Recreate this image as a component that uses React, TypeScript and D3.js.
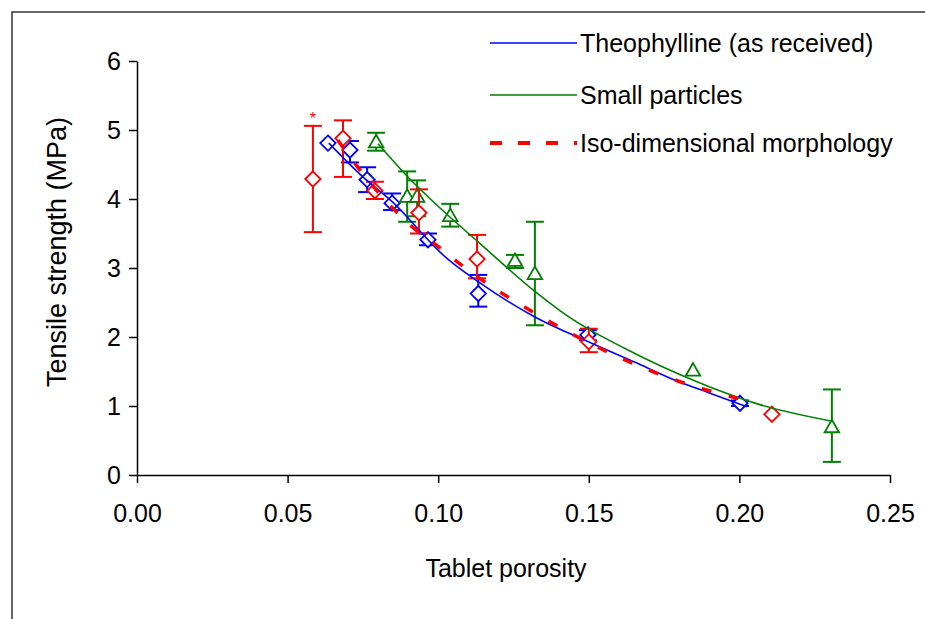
import React, { useEffect, useRef } from 'react';
import * as d3 from 'd3';

// measured points: [porosity, strength, low, high]
const asReceived = [
  [0.0634, 4.81, 4.81, 4.81],
  [0.0707, 4.71, 4.53, 4.84],
  [0.0764, 4.28, 4.1, 4.46],
  [0.0847, 3.94, 3.84, 4.08],
  [0.0966, 3.41, 3.33, 3.5],
  [0.1133, 2.63, 2.44, 2.9],
  [0.1497, 2.03, 1.95, 2.1],
  [0.2002, 1.04, 1.0, 1.08],
];
const smallParticles = [
  [0.0794, 4.81, 4.7, 4.96],
  [0.0897, 4.02, 3.67, 4.4],
  [0.093, 4.02, 3.75, 4.27],
  [0.104, 3.74, 3.6, 3.93],
  [0.1255, 3.09, 3.0, 3.19],
  [0.1321, 2.9, 2.17, 3.67],
  [0.1846, 1.5, 1.5, 1.5],
  [0.2307, 0.68, 0.19, 1.24],
];
const isoDimensional = [
  [0.0584, 4.29, 3.52, 5.06],
  [0.0684, 4.88, 4.32, 5.14],
  [0.079, 4.12, 4.0, 4.25],
  [0.0936, 3.8, 3.5, 4.14],
  [0.1129, 3.13, 2.85, 3.48],
  [0.15, 1.93, 1.78, 2.12],
  [0.2108, 0.88, 0.88, 0.88],
];

// fitted trend lines
const asReceivedFit = [
  [0.0637, 4.81], [0.075, 4.32], [0.085, 3.95], [0.0966, 3.41], [0.1006, 3.23],
  [0.114, 2.78], [0.1321, 2.29], [0.1504, 1.92], [0.165, 1.64], [0.18, 1.35],
  [0.19, 1.19], [0.2025, 0.99],
];
const smallFit = [
  [0.08, 4.8], [0.0897, 4.33], [0.1006, 3.87], [0.114, 3.35], [0.1321, 2.66],
  [0.1405, 2.38], [0.1653, 1.76], [0.18, 1.46], [0.19, 1.28], [0.2068, 1.02],
  [0.2307, 0.78],
];
const isoFit = [
  [0.0667, 4.85], [0.0796, 4.12], [0.0913, 3.6], [0.1006, 3.29], [0.109, 3.0],
  [0.1195, 2.68], [0.1288, 2.43], [0.1564, 1.78], [0.166, 1.59], [0.1753, 1.43],
  [0.1846, 1.29], [0.1936, 1.18], [0.2035, 1.06],
];

const xTicks = [0, 0.05, 0.1, 0.15, 0.2, 0.25];
const yTicks = [0, 1, 2, 3, 4, 5, 6];
const legendItems = ['Theophylline (as received)', 'Small particles', 'Iso-dimensional morphology'];

const BLUE = '#0000ff';
const GREEN = '#008000';
const RED = '#ff0000';
const FONT = '"Liberation Sans", Arial, sans-serif';
const FS = 25;

export default function App() {
  const ref = useRef<SVGSVGElement>(null);

  useEffect(() => {
    const svg = d3.select(ref.current);
    svg.selectAll('*').remove();

    const x = d3.scaleLinear().domain([0, 0.25]).range([137, 890]);
    const y = d3.scaleLinear().domain([0, 6]).range([475, 61]);

    // outer frame (top and left edges visible)
    svg.append('path')
      .attr('d', 'M12,619 L12,12 L925,12')
      .attr('fill', 'none')
      .attr('stroke', '#333')
      .attr('stroke-width', 1.5);

    const xAxis = svg.append('g')
      .attr('transform', 'translate(0,475)')
      .call(d3.axisBottom(x).tickValues(xTicks).tickFormat(d3.format('.2f')).tickSize(8).tickSizeOuter(0));
    xAxis.selectAll('text').attr('dy', '1.05em').attr('y', 21);

    const yAxis = svg.append('g')
      .attr('transform', 'translate(137,0)')
      .call(d3.axisLeft(y).tickValues(yTicks).tickFormat(d3.format('d')).tickSize(8).tickSizeOuter(0));
    yAxis.selectAll('text').attr('x', -16);

    svg.selectAll('.domain, .tick line').attr('stroke', '#000').attr('stroke-width', 1.5);
    svg.selectAll('.tick text')
      .attr('font-family', FONT)
      .attr('font-size', FS)
      .attr('fill', '#000');

    svg.append('text')
      .attr('x', 506).attr('y', 577)
      .attr('text-anchor', 'middle')
      .attr('font-family', FONT).attr('font-size', FS)
      .text('Tablet porosity');

    svg.append('text')
      .attr('transform', 'translate(66,252) rotate(-90)')
      .attr('text-anchor', 'middle')
      .attr('font-family', FONT).attr('font-size', 27)
      .text('Tensile strength (MPa)');

    const line = d3.line<number[]>()
      .x(d => x(d[0]))
      .y(d => y(d[1]))
      .curve(d3.curveMonotoneX);

    const series = [
      { pts: asReceived, color: BLUE, shape: 'diamond' },
      { pts: smallParticles, color: GREEN, shape: 'triangle' },
      { pts: isoDimensional, color: RED, shape: 'diamond' },
    ];

    const diamond = d3.symbol(d3.symbolDiamond2, 150);
    const triangle = d3.symbol(d3.symbolTriangle2, 150);

    series.forEach(s => {
      const g = svg.append('g');
      const bars = s.pts.filter(d => d[3] - d[2] > 0.01);
      g.selectAll('line.v').data(bars).enter().append('line')
        .attr('x1', d => x(d[0])).attr('x2', d => x(d[0]))
        .attr('y1', d => y(d[2])).attr('y2', d => y(d[3]))
        .attr('stroke', s.color).attr('stroke-width', 2);
      [2, 3].forEach(k => {
        g.selectAll(`line.c${k}`).data(bars).enter().append('line')
          .attr('x1', d => x(d[0]) - 9).attr('x2', d => x(d[0]) + 9)
          .attr('y1', d => y(d[k])).attr('y2', d => y(d[k]))
          .attr('stroke', s.color).attr('stroke-width', 2);
      });
      g.selectAll('path.m').data(s.pts).enter().append('path')
        .attr('d', s.shape === 'diamond' ? diamond() : triangle())
        .attr('transform', d => `translate(${x(d[0])},${y(d[1])})`)
        .attr('fill', '#fff')
        .attr('stroke', s.color)
        .attr('stroke-width', 1.8);
    });

    // trend lines drawn over markers
    svg.append('path').datum(asReceivedFit).attr('d', line)
      .attr('fill', 'none').attr('stroke', BLUE).attr('stroke-width', 1.6);
    svg.append('path').datum(smallFit).attr('d', line)
      .attr('fill', 'none').attr('stroke', GREEN).attr('stroke-width', 1.6);
    svg.append('path').datum(isoFit).attr('d', line)
      .attr('fill', 'none').attr('stroke', RED).attr('stroke-width', 3.5)
      .attr('stroke-dasharray', '10,18');

    // stray mark above the first iso-dimensional point
    svg.append('text')
      .attr('x', x(0.0584)).attr('y', y(5.06) - 2)
      .attr('text-anchor', 'middle')
      .attr('font-family', FONT).attr('font-size', 16).attr('fill', RED)
      .text('*');

    // legend
    const colors = [BLUE, GREEN, RED];
    const ly = [43, 95, 143];
    legendItems.forEach((label, i) => {
      svg.append('line')
        .attr('x1', 490).attr('x2', 577).attr('y1', ly[i]).attr('y2', ly[i])
        .attr('stroke', colors[i])
        .attr('stroke-width', i === 2 ? 4 : 1.6)
        .attr('stroke-dasharray', i === 2 ? '12,16' : null);
      svg.append('text')
        .attr('x', 580).attr('y', ly[i] + 9)
        .attr('font-family', FONT).attr('font-size', FS)
        .attr('fill', '#000')
        .text(label);
    });
  }, []);

  return (
    <svg
      ref={ref}
      width={925}
      height={619}
      style={{ position: 'absolute', left: 0, top: 0, background: '#fff' }}
    />
  );
}
